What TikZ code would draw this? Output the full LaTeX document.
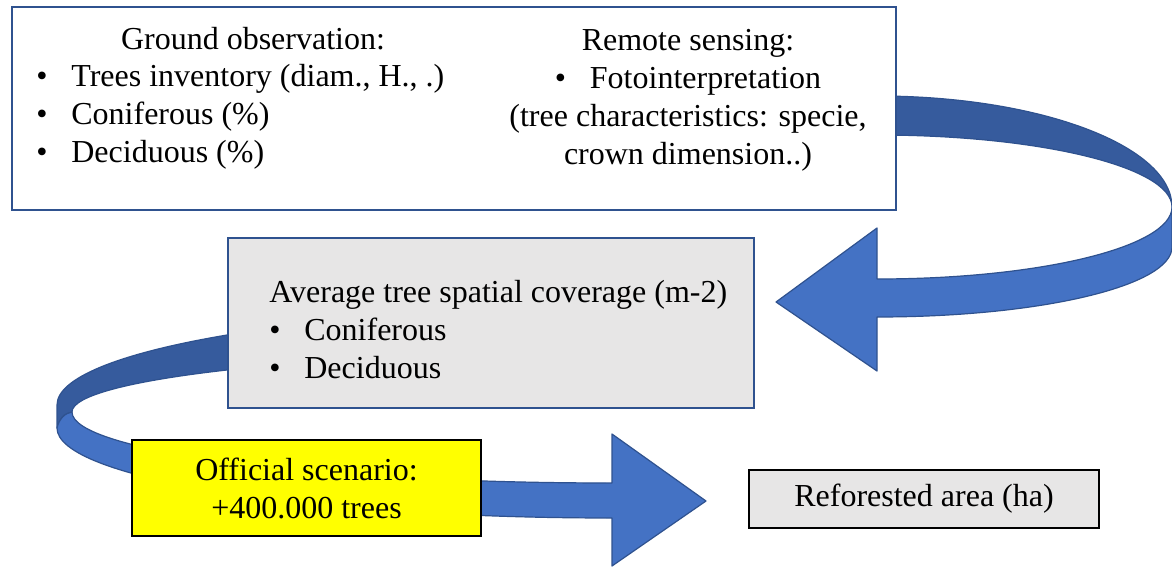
\documentclass[tikz,border=0pt]{standalone}
\usepackage{fontspec}
\setmainfont{Liberation Serif}
\usetikzlibrary{positioning}
\definecolor{RibbonBlue}{HTML}{4472C4}
\definecolor{RibbonShade}{HTML}{365B9D}
\definecolor{RibbonEdge}{HTML}{2F528F}
\definecolor{PanelGrey}{HTML}{E7E6E6}
\definecolor{ScenarioYellow}{HTML}{FFFF00}
\newcommand{\bitem}[1]{\makebox[17.5pt][l]{\textbullet}#1}

\begin{document}
\begin{tikzpicture}[
    x=0.5pt, y=-0.5pt,
    font=\fontsize{16}{19}\selectfont,
    back/.style={fill=RibbonShade, draw=RibbonEdge, line width=0.6pt, line join=round},
    front/.style={fill=RibbonBlue, draw=RibbonEdge, line width=0.6pt, line join=round},
    box/.style={draw=RibbonEdge, line width=1pt, inner sep=0pt},
    plain/.style={draw=black, line width=1pt, inner sep=0pt, align=center},
    txt/.style={inner sep=0pt}
  ]
  \useasboundingbox (0,0) rectangle (1172,567);
  \clip (0,0) rectangle (1172,567);

  % upper ribbon: back face, then front face with head
  \draw[back] (840,96) -- (877,96) .. controls (1040,96) and (1172,146) .. (1172,207)
    .. controls (1172,167) and (1040,135) .. (877,135) -- (840,135) -- cycle;
  \draw[front] (1172,207) -- (1172,247) .. controls (1172,286) and (1040,317) .. (877,317)
    -- (877,371) -- (776,302) -- (877,228) -- (877,279)
    .. controls (1040,279) and (1172,247) .. (1172,207) -- cycle;

  % lower ribbon
  \draw[back] (612,308) .. controls (306,308) and (57,351) .. (57,405) -- (57,428)
    .. controls (59,419) and (65,413) .. (72,412)
    .. controls (72,379) and (314,352) .. (612,352) -- cycle;
  \draw[front] (72,412) .. controls (72,451) and (314,483) .. (612,483)
    -- (612,434) -- (706,501) -- (612,566) -- (612,518)
    .. controls (306,518) and (57,478) .. (57,428)
    .. controls (59,419) and (65,413) .. (72,412) -- cycle;

  % boxes
  \node[box, fill=white, minimum width=442pt, minimum height=101.5pt] (obs) at (454,108.5) {};
  \node[box, fill=PanelGrey, minimum width=263pt, minimum height=85pt] (cover) at (491,323) {};
  \node[plain, fill=ScenarioYellow, minimum width=174.5pt, minimum height=48pt] (scenario) at (306.5,488)
    {Official scenario:\\+400.000 trees};
  \node[plain, fill=PanelGrey, line width=0.8pt, minimum width=175pt, minimum height=29pt] (area) at (924,499)
    {Reforested area (ha)};

  % texts
  \node[txt, anchor=base] (ground) at (253,50) {Ground observation:};
  \node[txt, anchor=base west] (groundlist) at (36,87) {\begin{tabular}[t]{@{}l@{}}
    \bitem{Trees inventory (diam., H., .)}\\ \bitem{Coniferous (\%)}\\ \bitem{Deciduous (\%)}
  \end{tabular}};
  \node[txt, anchor=base] (remote) at (688,51) {\begin{tabular}[t]{@{}c@{}}
    Remote sensing:\\ \bitem{Fotointerpretation}\\ (tree characteristics: specie,\\ crown dimension..)
  \end{tabular}};
  \node[txt, anchor=base west] (covertxt) at (269,302) {\begin{tabular}[t]{@{}l@{}}
    Average tree spatial coverage (m-2)\\ \bitem{Coniferous}\\ \bitem{Deciduous}
  \end{tabular}};
\end{tikzpicture}
\end{document}
